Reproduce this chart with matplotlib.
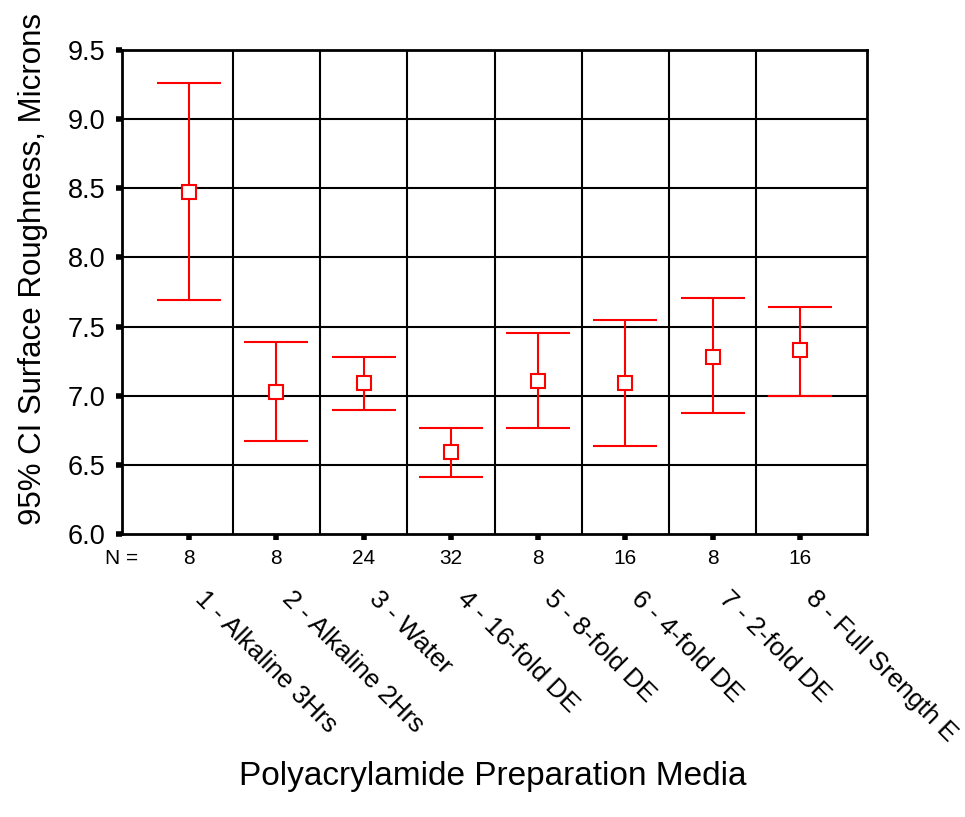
import matplotlib
matplotlib.use("Agg")
import matplotlib.pyplot as plt
import matplotlib.transforms as mtransforms
import numpy as np

plt.rcParams["font.family"] = ["Liberation Sans", "DejaVu Sans"]

# Data
groups = [1, 2, 3, 4, 5, 6, 7, 8]
group_labels = [
    "1 - Alkaline 3Hrs",
    "2 - Alkaline 2Hrs",
    "3 - Water",
    "4 - 16-fold DE",
    "5 - 8-fold DE",
    "6 - 4-fold DE",
    "7 - 2-fold DE",
    "8 - Full Srength E",
]
n_counts = [8, 8, 24, 32, 8, 16, 8, 16]
means = [8.47, 7.03, 7.09, 6.59, 7.11, 7.09, 7.28, 7.33]
ci_low = [7.69, 6.67, 6.90, 6.415, 6.763, 6.638, 6.872, 6.998]
ci_high = [9.26, 7.39, 7.283, 6.763, 7.454, 7.549, 7.703, 7.643]

fig = plt.figure(figsize=(9.65, 8.17), dpi=100)
ax = fig.add_axes([122 / 965, 1 - 534 / 817, 745 / 965, 484 / 817])

means = np.array(means)
yerr = [means - np.array(ci_low), np.array(ci_high) - means]
ax.errorbar(
    groups, means, yerr=yerr, fmt="s", color="#ff0000", mfc="white",
    mec="#ff0000", ms=10, mew=1.5, elinewidth=1.5, capsize=23, capthick=1.5,
    zorder=3,
)

# Grid: horizontal at ticks, vertical between groups
ax.set_xlim(0.233, 8.767)
ax.set_ylim(6.0, 9.5)
for y in np.arange(6.5, 9.5, 0.5):
    ax.axhline(y, color="black", lw=1.5, zorder=1)
for x in np.arange(1.5, 8.5, 1.0):
    ax.axvline(x, color="black", lw=1.5, zorder=1)

for sp in ax.spines.values():
    sp.set_linewidth(2)

ax.set_yticks(np.arange(6.0, 9.51, 0.5))
ax.set_yticklabels(["{:.1f}".format(v) for v in np.arange(6.0, 9.51, 0.5)])
ax.tick_params(axis="y", length=4, width=4, pad=8, labelsize=19.5)
ax.set_xticks(groups)
ax.set_xticklabels([])
ax.tick_params(axis="x", length=4, width=4)

# N = row
trans = mtransforms.blended_transform_factory(ax.transData, ax.transAxes)
ax.text(0.233, -0.05, "N =", transform=trans, ha="center", va="center",
        fontsize=15)
for g, n in zip(groups, n_counts):
    ax.text(g, -0.05, str(n), transform=trans, ha="center", va="center",
            fontsize=15)

# rotated group labels
for g, lab in zip(groups, group_labels):
    ax.text(g + 0.21, -0.108, lab, transform=trans, rotation=-45,
            rotation_mode="anchor", ha="left", va="top", fontsize=18.7)

fig.text(493 / 965, 1 - 776 / 817, "Polyacrylamide Preparation Media",
         ha="center", va="center", fontsize=24)
fig.text(33 / 965, 1 - 269 / 817, "95% CI Surface Roughness, Microns",
         ha="center", va="center", rotation=90, fontsize=22.5)

fig.savefig("out.png", dpi=100)
